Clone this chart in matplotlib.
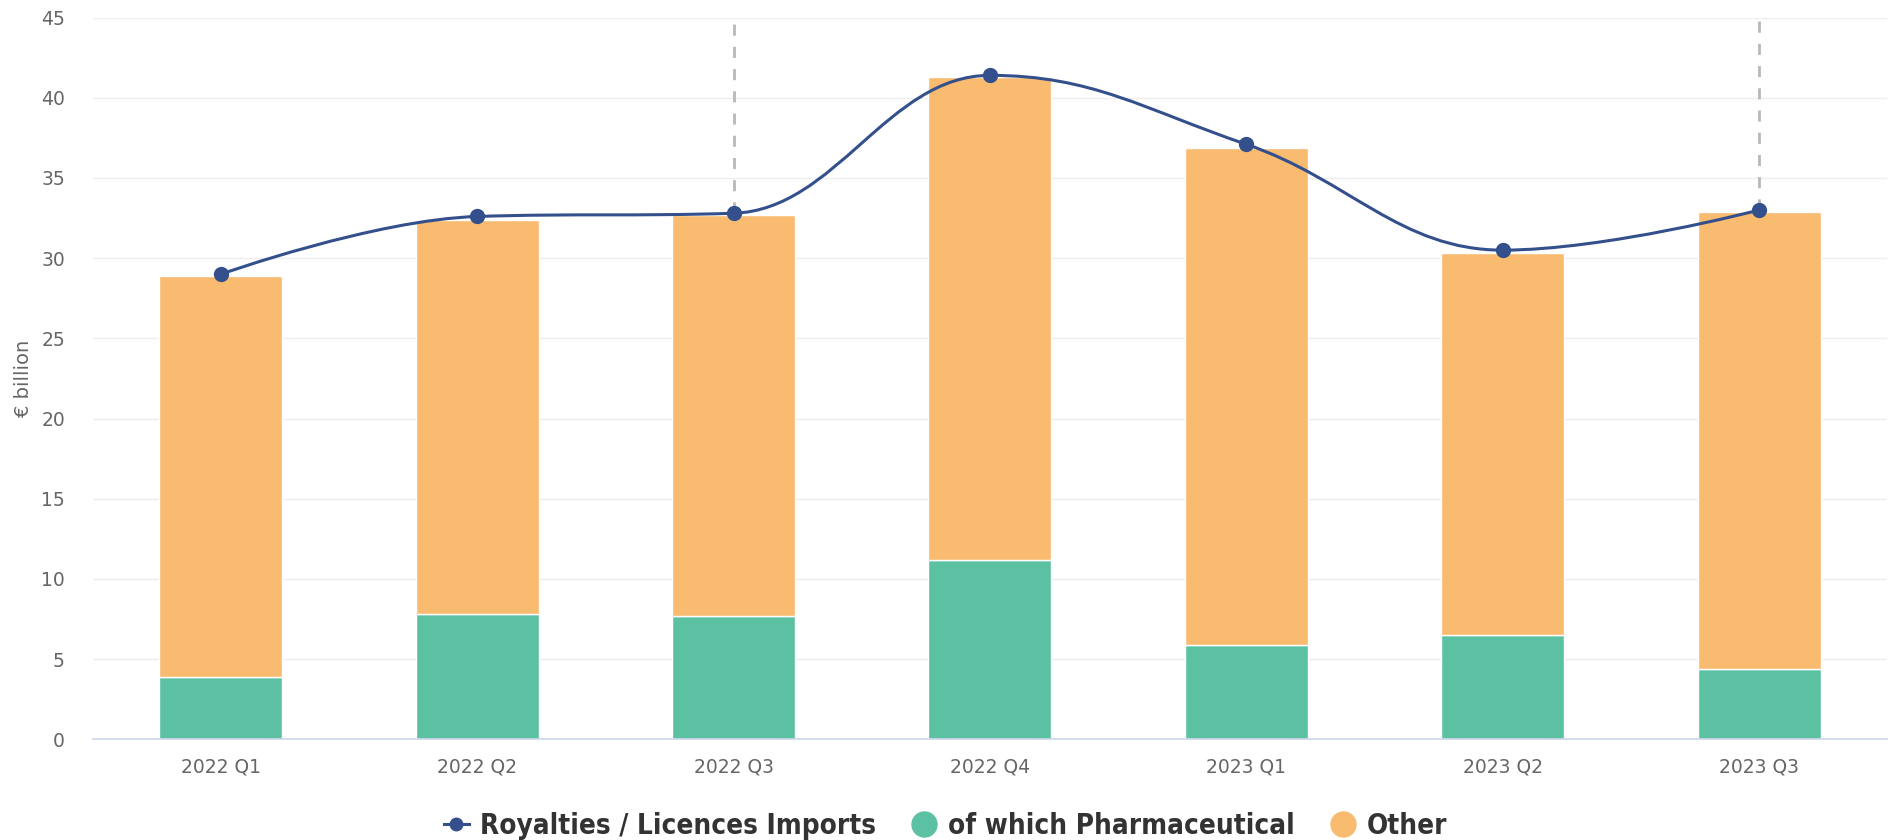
import matplotlib
matplotlib.use("Agg")
import matplotlib.pyplot as plt
from matplotlib import font_manager
from matplotlib.path import Path
from matplotlib.patches import PathPatch
from matplotlib.lines import Line2D

quarters = ["2022 Q1", "2022 Q2", "2022 Q3", "2022 Q4", "2023 Q1", "2023 Q2", "2023 Q3"]
imports_total = [29.0, 32.6, 32.8, 41.4, 37.1, 30.5, 33.0]
pharma = [3.9, 7.8, 7.7, 11.2, 5.9, 6.5, 4.4]
other = [25.0, 24.6, 25.0, 30.1, 31.0, 23.8, 28.5]
marked = [2, 6]  # quarters with a dashed marker line

line_col = "#34508c"
green = "#5bc1a2"
orange = "#f9bb70"
grey_txt = "#666666"


def spline_path(xs, ys, smoothing=1.5):
    # highcharts-style spline through the points
    n = len(xs)
    denom = smoothing + 1
    left = [(xs[0], ys[0])] * n
    right = [(xs[-1], ys[-1])] * n
    right[0] = (xs[0], ys[0])
    for i in range(1, n - 1):
        px, py = xs[i], ys[i]
        lx, ly = xs[i - 1], ys[i - 1]
        nx, ny = xs[i + 1], ys[i + 1]
        lcx = (smoothing * px + lx) / denom
        lcy = (smoothing * py + ly) / denom
        rcx = (smoothing * px + nx) / denom
        rcy = (smoothing * py + ny) / denom
        if rcx != lcx:
            corr = (rcy - lcy) * (rcx - px) / (rcx - lcx) + py - rcy
            lcy += corr
            rcy += corr
        if lcy > ly and lcy > py:
            lcy = max(ly, py)
            rcy = 2 * py - lcy
        elif lcy < ly and lcy < py:
            lcy = min(ly, py)
            rcy = 2 * py - lcy
        if rcy > ny and rcy > py:
            rcy = max(ny, py)
            lcy = 2 * py - rcy
        elif rcy < ny and rcy < py:
            rcy = min(ny, py)
            lcy = 2 * py - rcy
        left[i] = (lcx, lcy)
        right[i] = (rcx, rcy)
    left[-1] = (xs[-1], ys[-1])
    verts = [(xs[0], ys[0])]
    codes = [Path.MOVETO]
    for i in range(1, n):
        verts += [right[i - 1], left[i], (xs[i], ys[i])]
        codes += [Path.CURVE4] * 3
    return Path(verts, codes)


# legend uses a narrow bold face in the original; use one if there is one
legend_font = {"family": "DejaVu Sans", "weight": "bold", "size": 17}
for f in font_manager.fontManager.ttflist:
    if "Narrow" in f.name or f.stretch in ("condensed", "semi-condensed"):
        legend_font = {"family": f.name, "weight": "bold", "size": 20,
                       "stretch": f.stretch}
        break

fig = plt.figure(figsize=(18.91, 8.4), dpi=100)
ax = fig.add_axes([0.049, 0.12, 0.949, 0.859])

x = list(range(len(quarters)))
ax.bar(x, pharma, width=0.48, color=green, edgecolor="white", linewidth=1, zorder=2)
ax.bar(x, other, width=0.48, bottom=pharma, color=orange, edgecolor="white", linewidth=1, zorder=2)

ax.vlines([x[i] for i in marked], [imports_total[i] for i in marked], 45,
          colors="#b8b8b8", linestyles=(0, (4, 4)), linewidth=2, zorder=3)

ax.add_patch(PathPatch(spline_path(x, imports_total), facecolor="none",
                       edgecolor=line_col, linewidth=2.2, zorder=4))
ax.plot(x, imports_total, "o", color=line_col, markersize=10, zorder=5)

ax.set_xlim(-0.5, len(quarters) - 0.5)
ax.set_ylim(0, 45)
ax.set_yticks(range(0, 46, 5))
ax.set_xticks(x)
ax.set_xticklabels(quarters)
ax.tick_params(axis="both", length=0, labelsize=13.5, labelcolor=grey_txt)
ax.tick_params(axis="x", pad=13)
ax.tick_params(axis="y", pad=20)
ax.grid(axis="y", color="#eeeeee", linewidth=1, zorder=0)
ax.set_axisbelow(True)
for s in ["top", "right", "left"]:
    ax.spines[s].set_visible(False)
ax.spines["bottom"].set_color("#ccd6eb")
ax.spines["bottom"].set_linewidth(1.2)
ax.set_ylabel("€ billion", color=grey_txt, fontsize=14, labelpad=6)

handles = [
    Line2D([0], [0], color=line_col, linewidth=2.2, marker="o", markersize=9),
    Line2D([0], [0], linestyle="none", marker="o", markersize=18, color=green),
    Line2D([0], [0], linestyle="none", marker="o", markersize=18, color=orange),
]
labels = ["Royalties / Licences Imports", "of which Pharmaceutical", "Other"]
fig.legend(handles, labels, loc="center", bbox_to_anchor=(0.5, 0.017), ncol=3,
           frameon=False, handlelength=0.9, handletextpad=0.4, columnspacing=1.3,
           prop=legend_font, labelcolor="#333333")

fig.savefig("out.png", dpi=100, facecolor="white")
